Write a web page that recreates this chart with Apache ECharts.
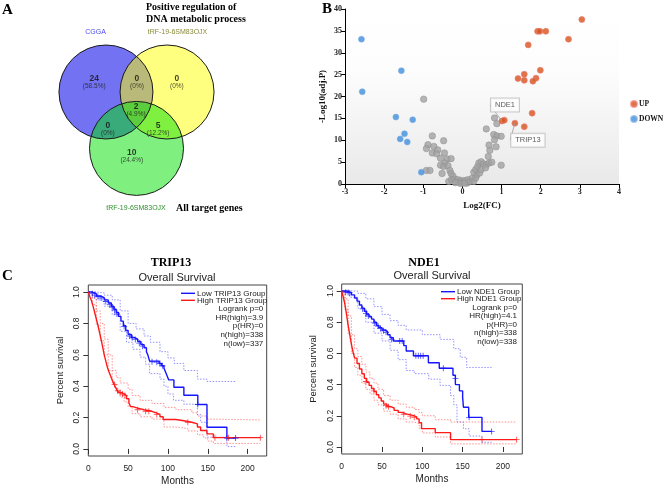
<!DOCTYPE html>
<html>
<head>
<meta charset="utf-8">
<script src="https://cdn.jsdelivr.net/npm/echarts@6/dist/echarts.min.js"></script>
<style>
  html, body { margin: 0; padding: 0; background: #fff; }
  #chart { width: 669px; height: 487px; }
</style>
</head>
<body>
<div id="chart"></div>
<script>
// ---------- data: panel A (venn) ----------
const vennSetNames = ['CGGA', 'tRF-19-6SM83OJX', 'tRF-19-6SM83OJX'];
const vennCounts = [24, 0, 0, 2, 0, 5, 10];
const vennPercents = ['58.5%', '0%', '0%', '4.9%', '0%', '12.2%', '24.4%'];

// ---------- data: panel B (volcano) ----------
const upPoints = [
  [3.05, 37.6], [2.71, 33.1], [1.92, 34.9], [1.98, 34.9], [2.13, 34.9], [1.68, 31.8],
  [1.99, 26.0], [1.58, 25.1], [1.42, 24.1], [1.58, 23.7], [1.88, 24.2], [1.80, 23.5],
  [1.78, 16.2], [1.01, 14.4], [1.07, 14.6], [1.34, 13.9], [1.58, 13.1]
];
const downPoints = [
  [-2.58, 33.1], [-1.56, 25.9], [-2.56, 21.1], [-1.70, 15.3], [-1.27, 14.7],
  [-1.48, 11.5], [-1.59, 10.3], [-1.41, 9.6], [-1.05, 2.7]
];
const nsPoints = [
  [-0.99, 19.4], [-0.77, 11.0], [-0.88, 9.0], [-0.92, 8.1], [-0.73, 8.6], [-0.63, 7.8],
  [-0.77, 7.1], [-0.66, 6.9], [-0.48, 9.9], [-0.46, 7.1], [-0.56, 5.9], [-0.39, 5.7],
  [-0.29, 5.8], [-0.45, 4.8], [-0.56, 4.3], [-0.48, 4.0], [-0.37, 4.2], [-0.92, 3.1],
  [-0.83, 3.1], [-0.52, 2.4], [-0.32, 3.1], [-0.29, 2.4], [-0.24, 1.8], [-0.35, 0.6],
  [-0.28, 1.0], [-0.20, 1.1], [-0.15, 0.6], [-0.11, 1.0], [-0.07, 0.4], [-0.03, 0.8],
  [0.02, 0.4], [0.07, 0.8], [0.12, 0.2], [0.14, 1.0], [0.20, 0.6], [0.25, 1.3],
  [0.29, 0.6], [0.34, 1.4], [0.37, 2.1], [0.29, 2.7], [0.34, 3.3], [0.39, 4.0],
  [0.42, 4.8], [0.48, 5.1], [0.54, 4.6], [0.61, 4.4], [0.68, 4.8], [0.75, 5.0],
  [0.44, 2.5], [0.48, 3.3], [0.59, 3.7], [0.66, 6.3], [0.70, 7.7], [0.68, 8.9],
  [0.61, 12.6], [0.82, 15.1], [0.88, 13.8], [0.80, 11.3], [0.88, 11.0], [0.99, 10.9],
  [0.82, 10.1], [0.86, 8.5], [0.99, 4.3], [-0.05, 0.1], [0.05, 0.15], [-0.18, 0.3]
];
const labelGenes = ['NDE1', 'TRIP13'];
const labelGenePoints = [[1.01, 14.4], [1.34, 13.9]];

// ---------- data: panel C (survival) ----------
const kmXTicks = [0, 50, 100, 150, 200];
const kmYTicks = [0, 0.2, 0.4, 0.6, 0.8, 1.0];

const tripLow = [[0,1],[5,0.99],[10,0.975],[15,0.965],[20,0.95],[25,0.93],[29,0.91],[32,0.89],[35,0.87],[38,0.845],[41,0.815],[44,0.785],[47,0.755],[50,0.73],[54,0.71],[58,0.7],[62,0.685],[66,0.665],[70,0.645],[73,0.62],[75,0.595],[77,0.56],[89,0.545],[92,0.53],[95,0.515],[97,0.49],[99,0.465],[101,0.44],[107.5,0.393],[120,0.342],[137.5,0.283],[149,0.138],[174,0.07],[185,0.07]];
const tripLowUpper = [[0,1],[10,0.995],[20,0.98],[30,0.95],[40,0.88],[50,0.8],[60,0.765],[70,0.72],[78,0.68],[90,0.62],[100,0.58],[108,0.545],[120,0.5],[137,0.445],[149,0.43],[185,0.43]];
const tripLowLower = [[0,1],[10,0.95],[20,0.91],[30,0.855],[40,0.75],[48,0.68],[56,0.635],[65,0.585],[72,0.54],[77,0.48],[90,0.445],[95,0.4],[100,0.35],[107,0.31],[120,0.285],[137,0.22],[141,0.17],[149,0.075],[174,0.015],[185,0.015]];
const tripHigh = [[0,1],[2,0.97],[4,0.945],[6,0.91],[8,0.87],[10,0.83],[12,0.79],[14,0.745],[16,0.7],[18,0.65],[20,0.6],[22,0.56],[24,0.52],[26,0.49],[28,0.465],[30,0.44],[32,0.415],[34,0.395],[36,0.375],[38,0.36],[41,0.35],[45,0.34],[48,0.32],[51,0.295],[53,0.27],[56,0.26],[62,0.25],[70,0.24],[80,0.23],[85,0.22],[90,0.205],[94,0.188],[110,0.18],[120,0.17],[130,0.16],[137,0.14],[141,0.118],[149,0.096],[157,0.072],[216,0.072]];
const tripHighUpper = [[0,1],[5,0.96],[10,0.88],[15,0.8],[20,0.7],[25,0.6],[30,0.5],[35,0.455],[40,0.42],[50,0.38],[55,0.34],[65,0.31],[80,0.29],[95,0.265],[110,0.25],[130,0.23],[137,0.21],[149,0.19],[157,0.185],[216,0.185]];
const tripHighLower = [[0,1],[5,0.92],[10,0.79],[15,0.69],[20,0.6],[25,0.5],[30,0.42],[35,0.37],[40,0.33],[45,0.3],[50,0.27],[55,0.225],[65,0.205],[80,0.19],[95,0.14],[110,0.13],[125,0.115],[137,0.09],[145,0.07],[150,0.05],[157,0.035],[216,0.035]];
const tripLowCensor = [[5,0.99],[8,0.98],[12,0.972],[16,0.962],[22,0.94],[27,0.92],[30,0.905],[33,0.885],[36,0.86],[45,0.78],[52,0.72],[55,0.708],[59,0.698],[64,0.675],[68,0.655],[80,0.555],[86,0.553],[90,0.545],[93,0.53],[137.5,0.283],[174,0.07],[185,0.07]];
const tripHighCensor = [[33,0.41],[37,0.37],[40,0.36],[43,0.35],[46,0.34],[62,0.25],[72,0.24],[76,0.24],[86,0.22],[125,0.17],[159,0.072],[176,0.072],[216,0.072]];

const ndeLow = [[0,1],[6,0.99],[12,0.975],[16,0.955],[19,0.935],[22,0.91],[25,0.89],[28,0.87],[31,0.85],[34,0.835],[37,0.82],[40,0.8],[43,0.78],[46,0.765],[50,0.75],[54,0.74],[57,0.72],[60,0.7],[64,0.68],[77,0.65],[80,0.615],[89,0.585],[107.5,0.54],[121,0.505],[138,0.46],[141,0.4],[146,0.36],[150,0.32],[151,0.255],[157.5,0.19],[174,0.1],[186,0.1]];
const ndeLowUpper = [[0,1],[10,1],[20,0.985],[30,0.95],[40,0.9],[50,0.85],[60,0.81],[70,0.78],[80,0.75],[100,0.72],[122,0.69],[139,0.63],[147,0.575],[155,0.51],[186,0.51]];
const ndeLowLower = [[0,1],[10,0.96],[20,0.89],[30,0.8],[40,0.73],[50,0.68],[60,0.62],[70,0.56],[80,0.49],[90,0.47],[108,0.435],[122,0.395],[135,0.33],[139,0.27],[143,0.16],[151,0.117],[158,0.07],[174,0.03],[186,0.03]];
const ndeHigh = [[0,1],[2,0.96],[4,0.915],[6,0.85],[8,0.78],[10,0.72],[12,0.66],[14,0.61],[16,0.57],[19,0.535],[22,0.5],[25,0.47],[28,0.44],[31,0.415],[34,0.395],[37,0.375],[40,0.355],[43,0.335],[46,0.315],[49,0.295],[52,0.275],[56,0.26],[60,0.25],[65,0.235],[70,0.222],[75,0.212],[80,0.203],[88,0.193],[93,0.18],[96,0.155],[99,0.118],[116,0.092],[135,0.047],[217,0.047]];
const ndeHighUpper = [[0,1],[4,0.95],[8,0.84],[12,0.72],[16,0.63],[20,0.58],[25,0.53],[30,0.48],[35,0.44],[40,0.41],[45,0.37],[52,0.33],[60,0.3],[70,0.275],[80,0.255],[90,0.24],[96,0.22],[100,0.2],[116,0.175],[135,0.16],[217,0.16]];
const ndeHighLower = [[0,1],[4,0.88],[8,0.72],[12,0.6],[16,0.51],[20,0.46],[25,0.41],[30,0.37],[35,0.34],[40,0.3],[45,0.27],[52,0.23],[60,0.21],[70,0.18],[80,0.16],[90,0.15],[96,0.12],[100,0.09],[116,0.064],[135,0.02],[217,0.02]];
const ndeLowCensor = [[5,0.992],[8,0.99],[10,0.988],[26,0.885],[30,0.855],[33,0.84],[41,0.795],[45,0.775],[48,0.76],[52,0.745],[55,0.735],[62,0.69],[72,0.68],[75,0.68],[92,0.585],[95,0.585],[98,0.585],[101,0.585],[126,0.505],[141,0.44],[158,0.19],[186,0.1]];
const ndeHighCensor = [[30,0.42],[40,0.36],[55,0.265],[58,0.258],[77,0.21],[85,0.198],[90,0.19],[174,0.047],[217,0.047]];

const tripStats = ['Logrank p=0', 'HR(high)=3.9', 'p(HR)=0', 'n(high)=338', 'n(low)=337'];
const ndeStats = ['Logrank p=0', 'HR(high)=4.1', 'p(HR)=0', 'n(high)=338', 'n(low)=338'];

// ---------- styling ----------
const SERIF = '"Liberation Serif", "Times New Roman", serif';
const SANS = '"Liberation Sans", Arial, sans-serif';
const BLUE = '#1515ff';
const RED = '#ff1a1a';
const BLUE_CI = 'rgba(70,70,255,0.65)';
const RED_CI = 'rgba(255,70,70,0.65)';
const plusSymbol = 'path://M4.3,0h1.4v4.3h4.3v1.4h-4.3v4.3h-1.4v-4.3h-4.3v-1.4h4.3z';

// venn layout (unit = circle radius)
const vennCenters = [[-0.65, 0.6], [0.65, 0.6], [0, -0.6]];
const vennFills = ['#7272f2', 'rgba(255,255,0,0.5)', 'rgba(0,225,0,0.5)'];
const vennLabelPos = [[-0.9, 0.81], [0.01, 0.81], [0.86, 0.81], [-0.01, 0.22], [-0.61, -0.19], [0.46, -0.19], [-0.1, -0.76]];

const chart = echarts.init(document.getElementById('chart'), null, { renderer: 'canvas' });

function circleItem(fillFn) {
  return (params, api) => {
    const c = api.coord([api.value(0), api.value(1)]);
    const r = api.size([1, 0])[0];
    return {
      type: 'circle',
      shape: { cx: c[0], cy: c[1], r: r },
      style: fillFn(api.value(2))
    };
  };
}

// KM axis builders
function kmXAxis(gi) {
  return {
    gridIndex: gi, type: 'value', min: 0, max: 224,
    axisLine: { show: false },
    axisTick: { show: true, length: 5, customValues: kmXTicks, lineStyle: { color: '#333' } },
    axisLabel: { customValues: kmXTicks, fontFamily: SANS, fontSize: 8.5, color: '#222', margin: 8 },
    splitLine: { show: false },
    name: 'Months', nameLocation: 'middle', nameGap: 20,
    nameTextStyle: { fontFamily: SANS, fontSize: 10, color: '#222' }
  };
}
function kmYAxis(gi) {
  return {
    gridIndex: gi, type: 'value', min: -0.045, max: 1.045,
    axisLine: { show: false },
    axisTick: { show: true, length: 5, customValues: kmYTicks, lineStyle: { color: '#333' } },
    axisLabel: { customValues: kmYTicks, rotate: 90, fontFamily: SANS, fontSize: 8.5, color: '#222', margin: 7,
      formatter: (v) => v.toFixed(1) },
    splitLine: { show: false },
    name: 'Percent survival', nameLocation: 'middle', nameGap: 23, nameRotate: 90,
    nameTextStyle: { fontFamily: SANS, fontSize: 9.5, color: '#222' }
  };
}
function kmSeries(gi, low, lowU, lowL, high, highU, highL, lowC, highC) {
  const ci = (data, color) => ({
    type: 'line', xAxisIndex: gi, yAxisIndex: gi, data: data, step: 'end', symbol: 'none',
    lineStyle: { color: color, width: 0.9, type: [1.5, 1.5] }, silent: true, z: 2
  });
  const main = (data, color) => ({
    type: 'line', xAxisIndex: gi, yAxisIndex: gi, data: data, step: 'end', symbol: 'none',
    lineStyle: { color: color, width: 1.4 }, silent: true, z: 3
  });
  const cens = (data, color) => ({
    type: 'scatter', xAxisIndex: gi, yAxisIndex: gi, data: data, symbol: plusSymbol, symbolSize: 6,
    itemStyle: { color: color }, silent: true, z: 4
  });
  return [ci(lowU, BLUE_CI), ci(lowL, BLUE_CI), ci(highU, RED_CI), ci(highL, RED_CI),
    main(low, BLUE), main(high, RED), cens(lowC, BLUE), cens(highC, RED)];
}
function kmLegend(x0, y0, gene, stats, right) {
  const els = [];
  const rows = ['Low ' + gene + ' Group', 'High ' + gene + ' Group'];
  rows.forEach((t, i) => {
    const y = y0 + i * 7;
    els.push({ type: 'line', shape: { x1: x0, y1: y, x2: x0 + 14, y2: y },
      style: { stroke: i === 0 ? BLUE : RED, lineWidth: 1.4 } });
    els.push({ type: 'text', x: x0 + 16, y: y,
      style: { text: t, font: '8px ' + SANS, fill: '#222', textAlign: 'left', textVerticalAlign: 'middle', align: 'left', verticalAlign: 'middle' } });
  });
  stats.forEach((t, i) => {
    els.push({ type: 'text', x: right, y: y0 + 15.7 + i * 8.6,
      style: { text: t, font: '8px ' + SANS, fill: '#222', textAlign: 'right', textVerticalAlign: 'middle', align: 'right', verticalAlign: 'middle' } });
  });
  return els;
}
function txt(x, y, text, font, fill, align, rot) {
  return { type: 'text', x: x, y: y, rotation: rot || 0,
    style: { text: text, font: font, fill: fill || '#000', textAlign: align || 'left', textVerticalAlign: 'middle',
      align: align || 'left', verticalAlign: 'middle' } };
}

const option = {
  backgroundColor: '#fff',
  animation: false,
  grid: [
    { left: 42.5, top: 26.2, width: 188, height: 188, show: false },
    { left: 345, top: 9, width: 274, height: 175, show: true, borderWidth: 0,
      backgroundColor: new echarts.graphic.LinearGradient(0, 0, 0, 1, [
        { offset: 0, color: '#ffffff' }, { offset: 0.35, color: '#fdfdfd' }, { offset: 1, color: '#e9e9e9' }]) },
    { left: 88.3, top: 285, width: 178.4, height: 171, show: true, borderColor: '#444', borderWidth: 1, backgroundColor: 'transparent' },
    { left: 341.7, top: 284, width: 180.6, height: 170, show: true, borderColor: '#444', borderWidth: 1, backgroundColor: 'transparent' }
  ],
  xAxis: [
    { gridIndex: 0, type: 'value', min: -2, max: 2, show: false },
    { gridIndex: 1, type: 'value', min: -3, max: 4, interval: 1,
      axisLine: { onZero: false, lineStyle: { color: '#000', width: 1 } },
      axisTick: { length: 4, lineStyle: { color: '#000' } },
      axisLabel: { fontFamily: SERIF, fontSize: 8, fontWeight: 'bold', color: '#222', margin: 4 },
      splitLine: { show: false },
      name: 'Log2(FC)', nameLocation: 'middle', nameGap: 17,
      nameTextStyle: { fontFamily: SERIF, fontSize: 9, fontWeight: 'bold', color: '#111' } },
    kmXAxis(2), kmXAxis(3)
  ],
  yAxis: [
    { gridIndex: 0, type: 'value', min: -2, max: 2, show: false },
    { gridIndex: 1, type: 'value', min: 0, max: 40, interval: 5,
      axisLine: { show: true, onZero: false, lineStyle: { color: '#000', width: 1 } },
      axisTick: { show: true, length: 4, lineStyle: { color: '#000' } },
      axisLabel: { fontFamily: SERIF, fontSize: 8, fontWeight: 'bold', color: '#222', margin: 3 },
      splitLine: { show: false },
      name: '-Log10(adj.P)', nameLocation: 'middle', nameGap: 18, nameRotate: 90,
      nameTextStyle: { fontFamily: SERIF, fontSize: 9, fontWeight: 'bold', color: '#111' } },
    kmYAxis(2), kmYAxis(3)
  ],
  legend: {
    data: ['UP', 'DOWN'], orient: 'vertical', left: 630, top: 100, itemWidth: 6, itemHeight: 6,
    itemGap: 7, icon: 'circle', selectedMode: false, padding: 0,
    textStyle: { fontFamily: SERIF, fontSize: 7.5, fontWeight: 'bold', color: '#111', padding: [0, 0, 0, -3] }
  },
  series: [
    // venn fills and outlines
    { type: 'custom', xAxisIndex: 0, yAxisIndex: 0, silent: true, z: 1,
      data: vennCenters.map((c, i) => [c[0], c[1], i]),
      renderItem: circleItem((i) => ({ fill: vennFills[i] })) },
    { type: 'custom', xAxisIndex: 0, yAxisIndex: 0, silent: true, z: 2,
      data: vennCenters.map((c, i) => [c[0], c[1], i]),
      renderItem: circleItem(() => ({ fill: 'none', stroke: '#1a1a1a', lineWidth: 1 })) },
    { type: 'scatter', xAxisIndex: 0, yAxisIndex: 0, silent: true, z: 3, symbolSize: 0,
      data: vennLabelPos.map((p, i) => [p[0], p[1], vennCounts[i], vennPercents[i]]),
      label: { show: true, position: 'inside',
        formatter: (p) => '{n|' + p.value[2] + '}\n{p|(' + p.value[3] + ')}',
        rich: {
          n: { fontFamily: SANS, fontSize: 8.5, fontWeight: 'bold', color: '#111', lineHeight: 9 },
          p: { fontFamily: SANS, fontSize: 6.5, color: '#222', lineHeight: 7 }
        } } },
    // volcano
    { name: 'NS', type: 'scatter', xAxisIndex: 1, yAxisIndex: 1, data: nsPoints, symbolSize: 6.5,
      itemStyle: { color: '#a3a3a3', borderColor: '#8c8c8c', borderWidth: 0.6 }, z: 2 },
    { name: 'UP', type: 'scatter', xAxisIndex: 1, yAxisIndex: 1, data: upPoints, symbolSize: 6,
      itemStyle: { color: '#d4521c', borderColor: 'rgba(240,120,110,0.8)', borderWidth: 1 }, z: 3 },
    { name: 'DOWN', type: 'scatter', xAxisIndex: 1, yAxisIndex: 1, data: downPoints, symbolSize: 6,
      itemStyle: { color: '#3f8fdc', borderColor: 'rgba(120,170,230,0.8)', borderWidth: 0.8 }, z: 3 },
    { name: 'genes', type: 'scatter', xAxisIndex: 1, yAxisIndex: 1, symbolSize: 0, silent: true, z: 5,
      data: labelGenePoints.map((p, i) => ({ value: p, name: labelGenes[i] })),
      label: { show: true, position: 'inside', formatter: '{b}', fontFamily: SANS, fontSize: 7.5, color: '#333',
        backgroundColor: '#fff', borderColor: '#bdbdbd', borderWidth: 1, padding: [3, 4, 2, 4] },
      labelLine: { show: true, lineStyle: { color: '#9a9a9a', width: 0.8 } },
      labelLayout: (p) => p.dataIndex === 0 ? { dx: 3, dy: -16 } : { dx: 13, dy: 17 } },
    // survival
    ...kmSeries(2, tripLow, tripLowUpper, tripLowLower, tripHigh, tripHighUpper, tripHighLower, tripLowCensor, tripHighCensor),
    ...kmSeries(3, ndeLow, ndeLowUpper, ndeLowLower, ndeHigh, ndeHighUpper, ndeHighLower, ndeLowCensor, ndeHighCensor)
  ],
  graphic: [
    txt(2, 10, 'A', 'bold 15px ' + SERIF),
    txt(146, 7.5, 'Positive regulation of', 'bold 10px ' + SERIF),
    txt(146, 19, 'DNA metabolic process', 'bold 10px ' + SERIF),
    txt(95.5, 32, vennSetNames[0], '7px ' + SANS, '#4b4bf0', 'center'),
    txt(177.5, 32, vennSetNames[1], '7px ' + SANS, '#8a8a3a', 'center'),
    txt(136, 208.5, vennSetNames[2], '7px ' + SANS, '#2f8f2f', 'center'),
    txt(176, 208.5, 'All target genes', 'bold 10px ' + SERIF),
    txt(322, 9, 'B', 'bold 15px ' + SERIF),
    txt(2, 276, 'C', 'bold 15px ' + SERIF),
    txt(171, 263, 'TRIP13', 'bold 12px ' + SERIF, '#000', 'center'),
    txt(177, 278, 'Overall Survival', '11px ' + SANS, '#222', 'center'),
    txt(424, 263, 'NDE1', 'bold 12px ' + SERIF, '#000', 'center'),
    txt(432, 276, 'Overall Survival', '11px ' + SANS, '#222', 'center'),
    ...kmLegend(181, 293.3, 'TRIP13', tripStats, 263.3),
    ...kmLegend(441, 291.7, 'NDE1', ndeStats, 517)
  ]
};

chart.setOption(option);
</script>
</body>
</html>
